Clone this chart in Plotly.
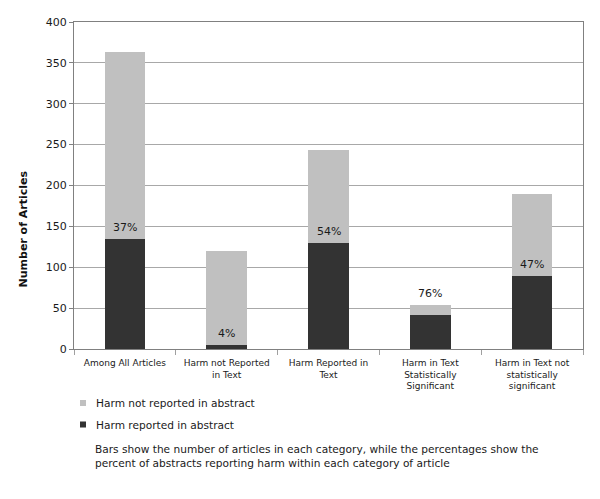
import plotly.graph_objects as go

categories = ["Among All Articles", "Harm not Reported<br>in Text", "Harm Reported in<br>Text",
              "Harm in Text<br>Statistically<br>Significant", "Harm in Text not<br>statistically<br>significant"]
reported = [135, 5, 130, 41, 89]
not_reported = [228, 115, 113, 13, 100]
percent_labels = ["37%", "4%", "54%", "76%", "47%"]
legend_names = ["Harm not reported in abstract", "Harm reported in abstract"]
legend_colors = ["#c0c0c0", "#333333"]

FONT = "DejaVu Sans"
TXT = "#1a1a1a"

fig = go.Figure()
fig.add_trace(go.Bar(x=categories, y=reported, name=legend_names[1],
                     marker=dict(color="#333333", line_width=0), width=0.4))
fig.add_trace(go.Bar(x=categories, y=not_reported, name=legend_names[0],
                     marker=dict(color="#c0c0c0", line_width=0), width=0.4))

# percent labels sit above the dark part, or above the whole bar when the light part is thin
for cat, r, n, lab in zip(categories, reported, not_reported, percent_labels):
	y = r + n if n < 20 else r
	fig.add_annotation(x=cat, y=y, text=lab, showarrow=False, yanchor="bottom", yshift=3,
	                   font=dict(family=FONT, size=11, color=TXT))

# legend drawn by hand below the plot (small squares like the original)
legend_y = [-0.1651, -0.2309]
for name, col, yc in zip(legend_names, legend_colors, legend_y):
	fig.add_shape(type="rect", xref="paper", yref="paper", x0=0.0118, x1=0.0236,
	              y0=yc - 0.0092, y1=yc + 0.0092, fillcolor=col, line_width=0)
	fig.add_annotation(xref="paper", yref="paper", x=0.0393, y=yc, xanchor="left", yanchor="middle",
	                   text=name, showarrow=False, font=dict(family=FONT, size=10.6, color=TXT))

fig.add_annotation(xref="paper", yref="paper", x=0.0373, y=-0.3257, xanchor="left", yanchor="middle",
                   align="left", showarrow=False,
                   text="Bars show the number of articles in each category, while the percentages show the<br>percent of abstracts reporting harm within each category of article",
                   font=dict(family=FONT, size=10.6, color=TXT))

# y axis title (sits lower than the plot centre in the original)
fig.add_annotation(xref="paper", yref="paper", x=-0.114, y=0.367, textangle=-90, showarrow=False,
                   text="<b>Number of Articles</b>", font=dict(family=FONT, size=11, color="#111111"))

fig.update_layout(
	width=592, height=491,
	margin=dict(l=66, r=17, t=14, b=150),
	barmode="stack",
	paper_bgcolor="white", plot_bgcolor="white",
	font=dict(family=FONT, color=TXT),
	showlegend=False,
	xaxis=dict(showline=True, linecolor="#808080", linewidth=1, mirror=True, automargin=False,
	           ticks="outside", tickson="boundaries", ticklen=5, tickcolor="#a0a0a0", tickangle=0,
	           ticklabelstandoff=5, tickfont=dict(family=FONT, size=9, color=TXT)),
	yaxis=dict(range=[0, 400], dtick=50, showline=True, linecolor="#808080", linewidth=1, mirror=True,
	           automargin=False, showgrid=True, gridcolor="#a8a8a8", gridwidth=1,
	           ticks="outside", ticklen=4, tickcolor="#808080",
	           tickfont=dict(family=FONT, size=11, color=TXT)),
)

fig.write_html("out.html")
